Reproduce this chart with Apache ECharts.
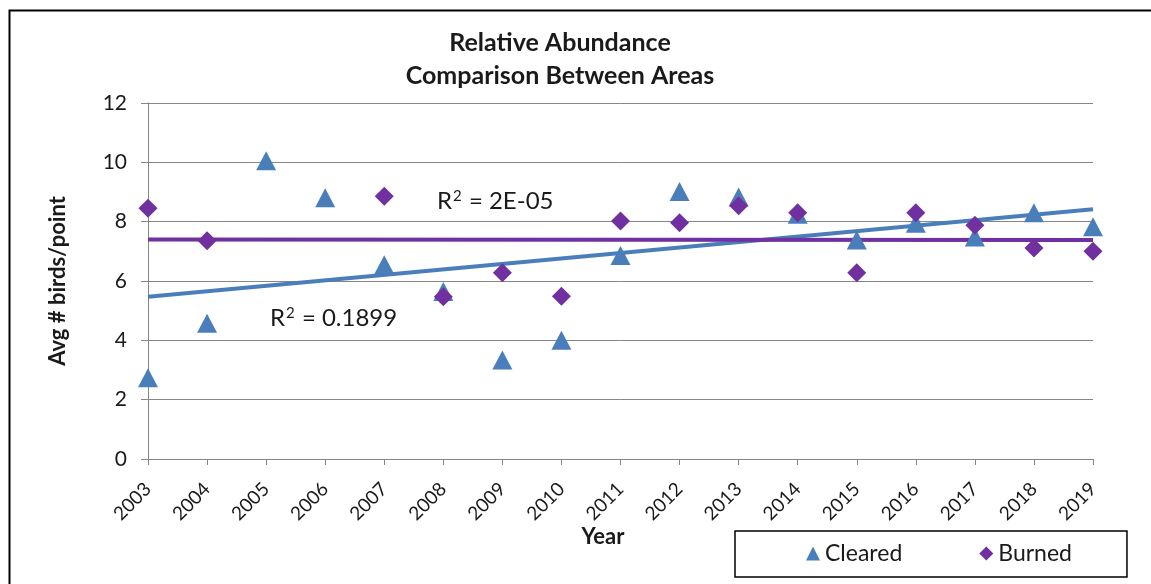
<!DOCTYPE html>
<html>
<head>
<meta charset="utf-8">
<script src="https://cdn.jsdelivr.net/npm/echarts@6/dist/echarts.min.js"></script>
<style>
html,body{margin:0;padding:0;background:#fff;}
#chart{width:1151px;height:584px;}
</style>
</head>
<body>
<div id="chart"></div>
<script>
const years = ['2003','2004','2005','2006','2007','2008','2009','2010','2011','2012','2013','2014','2015','2016','2017','2018','2019'];
const cleared = [2.74, 4.58, 10.05, 8.81, 6.55, 5.65, 3.34, 4.0, 6.86, 9.02, 8.83, 8.25, 7.38, 7.95, 7.48, 8.3, 7.83];
const burned = [8.45, 7.36, null, null, 8.86, 5.47, 6.28, 5.49, 8.02, 7.96, 8.54, 8.3, 6.28, 8.3, 7.88, 7.11, 7.0];
const clearedTrend = [5.47, 8.42];   // trendline values at first and last year
const burnedTrend = [7.40, 7.38];
const yTicks = [0, 2, 4, 6, 8, 10, 12];
const clearedR2 = '0.1899';
const burnedR2 = '2E-05';

const FONT = 'Lato, "Open Sans", sans-serif';
const BLUE = '#4A7EBB';
const PURPLE = '#7030A0';
const INK = '#1a1a1a';

function r2Text(val) {
  return {
    text: '{r|R}{s|2}{r| = ' + val + '}',
    rich: {
      r: {fontFamily: FONT, fontSize: 24, fill: INK, color: INK},
      s: {fontFamily: FONT, fontSize: 15, fill: INK, color: INK, verticalAlign: 'top', padding: [0, 1, 8, 1]}
    }
  };
}

const chart = echarts.init(document.getElementById('chart'), null, {renderer: 'canvas'});
chart.setOption({
  animation: false,
  backgroundColor: '#fff',
  title: {
    text: 'Relative Abundance\nComparison Between Areas',
    left: 555, top: 21, textAlign: 'center',
    textStyle: {fontFamily: FONT, fontSize: 25, fontWeight: 'bold', color: INK, lineHeight: 33}
  },
  grid: {left: 148, right: 58, top: 103, bottom: 125, containLabel: false},
  legend: {
    left: 735, top: 531,
    data: [
      {name: 'Cleared', icon: 'triangle'},
      {name: 'Burned', icon: 'diamond'}
    ],
    itemWidth: 14, itemHeight: 14, itemGap: 77,
    padding: [11, 55, 12, 71],
    borderColor: '#000', borderWidth: 1.5,
    textStyle: {fontFamily: FONT, fontSize: 23, color: INK}
  },
  xAxis: {
    type: 'category', data: years, boundaryGap: false,
    axisLine: {lineStyle: {color: '#868686', width: 1}},
    axisTick: {show: true, alignWithLabel: true, length: 6, lineStyle: {color: '#868686'}},
    axisLabel: {rotate: 45, fontFamily: FONT, fontSize: 19, color: INK, margin: 27, interval: 0},
    splitLine: {show: false}
  },
  yAxis: {
    type: 'value', min: yTicks[0], max: yTicks[yTicks.length - 1], interval: 2,
    name: 'Avg # birds/point', nameLocation: 'middle', nameGap: 79,
    nameTextStyle: {fontFamily: FONT, fontSize: 22, fontWeight: 'bold', color: INK},
    axisLine: {show: true, lineStyle: {color: '#868686', width: 1}},
    axisTick: {show: true, length: 7, lineStyle: {color: '#868686'}},
    axisLabel: {fontFamily: FONT, fontSize: 21, color: INK, margin: 21},
    splitLine: {lineStyle: {color: '#868686', width: 1}}
  },
  series: [
    {
      name: 'Cleared trend', type: 'line', showSymbol: false, silent: true,
      data: [[years[0], clearedTrend[0]], [years[years.length - 1], clearedTrend[1]]],
      lineStyle: {color: BLUE, width: 4}, z: 2
    },
    {
      name: 'Burned trend', type: 'line', showSymbol: false, silent: true,
      data: [[years[0], burnedTrend[0]], [years[years.length - 1], burnedTrend[1]]],
      lineStyle: {color: PURPLE, width: 4}, z: 2
    },
    {
      name: 'Cleared', type: 'scatter', symbol: 'triangle', symbolSize: [20, 19],
      data: cleared.map((v, i) => v == null ? [years[i], '-'] : [years[i], v]),
      itemStyle: {color: BLUE, opacity: 1}, z: 3
    },
    {
      name: 'Burned', type: 'scatter', symbol: 'diamond', symbolSize: [19, 19],
      data: burned.map((v, i) => v == null ? [years[i], '-'] : [years[i], v]),
      itemStyle: {color: PURPLE, opacity: 1}, z: 4
    }
  ],
  graphic: [
    {type: 'rect', shape: {x: 9.5, y: 10.5, width: 1300, height: 800}, style: {fill: 'none', stroke: '#000', lineWidth: 2}, silent: true},
    {type: 'text', x: 437, y: 201, style: Object.assign(r2Text(burnedR2), {textVerticalAlign: 'middle'})},
    {type: 'text', x: 270, y: 318, style: Object.assign(r2Text(clearedR2), {textVerticalAlign: 'middle'})},
    {type: 'text', x: 603, y: 537, style: {text: 'Year', fontFamily: FONT, fontSize: 22, fontWeight: 'bold', fill: INK, textAlign: 'center', textVerticalAlign: 'middle'}}
  ]
});
</script>
</body>
</html>
